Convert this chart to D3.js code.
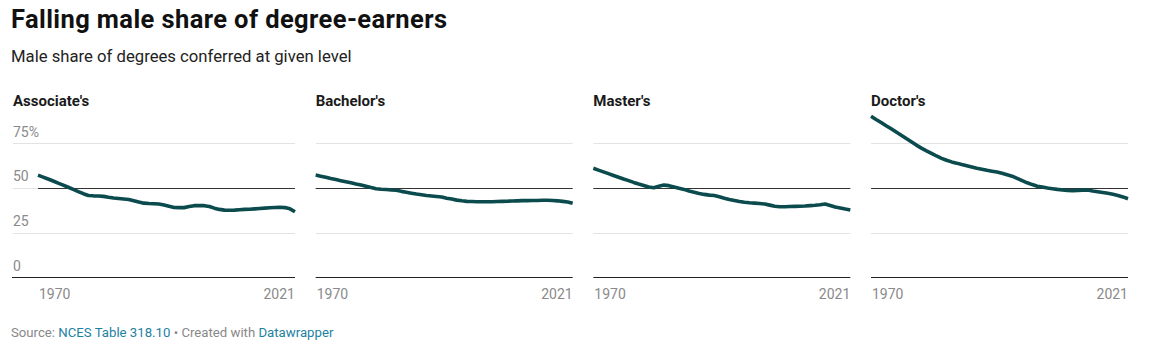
<!DOCTYPE html>
<html>
<head>
<meta charset="utf-8">
<script src="https://cdn.jsdelivr.net/npm/d3@7"></script>
<style>
  html, body { margin: 0; padding: 0; background: #fff; }
  svg { display: block; font-family: Roboto, "Noto Sans", sans-serif; }
</style>
</head>
<body>
<svg id="chart" width="1165" height="346"></svg>
<script>
// ---- data ----
const years = d3.range(1970, 2022);
const panelTitles = ["Associate's", "Bachelor's", "Master's", "Doctor's"];
const associates = [57.2,56.1,55.0,53.9,52.7,51.6,50.4,49.2,48.0,46.8,45.8,45.6,45.5,45.3,44.8,44.4,44.1,43.8,43.5,42.8,42.1,41.5,41.3,41.2,41.0,40.5,39.8,39.1,39.0,39.0,39.6,40.1,40.1,40.1,39.6,38.7,38.0,37.6,37.5,37.6,37.8,38.0,38.1,38.3,38.5,38.7,38.9,39.1,39.2,39.0,38.3,36.7];
const bachelors = [57.2,56.6,56.0,55.3,54.7,54.1,53.5,52.9,52.2,51.6,50.9,50.2,49.6,49.3,49.1,48.9,48.7,48.1,47.6,47.1,46.6,46.2,45.8,45.5,45.2,44.9,44.3,43.8,43.2,42.8,42.5,42.4,42.3,42.3,42.3,42.3,42.4,42.5,42.6,42.7,42.8,42.9,42.9,43.0,43.0,43.1,43.1,43.0,42.8,42.5,42.1,41.4];
const masters = [61.0,60.0,59.0,58.0,57.0,56.0,55.0,54.1,53.1,52.2,51.4,50.5,50.1,51.0,51.6,51.3,50.6,49.8,49.2,48.3,47.6,46.9,46.4,46.0,45.8,45.1,44.3,43.6,43.0,42.4,42.0,41.7,41.5,41.3,41.0,40.4,39.8,39.5,39.5,39.6,39.7,39.8,39.9,40.1,40.3,40.6,41.0,40.2,39.3,38.8,38.2,37.7];
const doctors = [90.1,88.3,86.6,84.8,83.1,81.3,79.5,77.7,75.9,74.0,72.3,70.8,69.4,67.9,66.6,65.5,64.6,63.9,63.1,62.4,61.7,61.0,60.5,59.9,59.4,58.9,58.2,57.4,56.6,55.4,54.1,52.9,51.9,51.0,50.5,50.0,49.6,49.2,48.9,48.6,48.5,48.6,48.8,48.9,48.3,47.9,47.5,47.0,46.5,45.8,45.0,44.0];
const seriesList = [associates, bachelors, masters, doctors];
const yTicks = [0, 25, 50, 75];
const xTickLabels = ["1970", "2021"];
const referenceValue = 50;

// ---- layout ----
const svg = d3.select("#chart");
const chartLeft = 13, chartRight = 1128;
const axisLabelW = 25, gap = 20.67;
const plotW = (chartRight - chartLeft - axisLabelW - 3 * gap) / 4;
const yTop = 143.3, yBottom = 277.3;
const lineColor = "#0b4b4e";

function fitWidth(sel, target) {
  const n = sel.text().length;
  const w = sel.node().getComputedTextLength();
  if (n > 1) sel.attr("letter-spacing", ((target - w) / (n - 1)).toFixed(2));
}

const title = svg.append("text").attr("x", 11).attr("y", 28)
  .attr("font-size", 25.5).attr("font-weight", 700).attr("fill", "#111")
  .text("Falling male share of degree-earners");
fitWidth(title, 436);
svg.append("text").attr("x", 11).attr("y", 62)
  .attr("font-size", 16.7).attr("fill", "#222")
  .text("Male share of degrees conferred at given level");

const y = d3.scaleLinear().domain([0, 75]).range([yBottom, yTop]);

seriesList.forEach((vals, i) => {
  const px0 = chartLeft + axisLabelW + i * (plotW + gap);
  const px1 = px0 + plotW;
  const outerLeft = i === 0 ? chartLeft : px0;
  const x = d3.scaleLinear().domain([1970, 2021]).range([px0, px1]);
  const g = svg.append("g");

  g.append("text").attr("x", outerLeft).attr("y", 106)
    .attr("font-size", 15).attr("font-weight", 700).attr("fill", "#1a1a1a")
    .text(panelTitles[i]);

  yTicks.filter(t => t !== 0).forEach(t => {
    g.append("line").attr("x1", outerLeft).attr("x2", px1)
      .attr("y1", Math.round(y(t)) + 0.5).attr("y2", Math.round(y(t)) + 0.5)
      .attr("stroke", "#e3e3e3").attr("stroke-width", 1);
  });
  if (i === 0) {
    yTicks.forEach(t => {
      g.append("text").attr("x", chartLeft).attr("y", y(t) - 6.5)
        .attr("font-size", 14).attr("fill", "#8a8a8a")
        .text(t === 75 ? "75%" : String(t));
    });
  }
  g.append("line").attr("x1", px0).attr("x2", px1)
    .attr("y1", Math.round(y(referenceValue)) + 0.5).attr("y2", Math.round(y(referenceValue)) + 0.5)
    .attr("stroke", "#333").attr("stroke-width", 1);
  g.append("line").attr("x1", i === 0 ? chartLeft - 1 : px0).attr("x2", px1)
    .attr("y1", Math.round(y(0)) + 0.5).attr("y2", Math.round(y(0)) + 0.5)
    .attr("stroke", "#222").attr("stroke-width", 1.2);

  g.append("text").attr("x", x(+xTickLabels[0]) + 1).attr("y", 298.5)
    .attr("font-size", 14).attr("fill", "#8a8a8a").attr("text-anchor", "start")
    .text(xTickLabels[0]);
  g.append("text").attr("x", x(+xTickLabels[1])).attr("y", 298.5)
    .attr("font-size", 14).attr("fill", "#8a8a8a").attr("text-anchor", "end")
    .text(xTickLabels[1]);

  const line = d3.line().x((d, j) => x(years[j])).y(d => y(d)).curve(d3.curveLinear);
  g.append("path").datum(vals).attr("d", line)
    .attr("fill", "none").attr("stroke", lineColor).attr("stroke-width", 3.6)
    .attr("stroke-linejoin", "round").attr("stroke-linecap", "butt");
});

const foot = svg.append("text").attr("x", 11).attr("y", 336.5).attr("font-size", 13.2);
foot.append("tspan").attr("fill", "#888").text("Source: ");
foot.append("tspan").attr("fill", "#1d81a2").text("NCES Table 318.10");
foot.append("tspan").attr("fill", "#888").text(" \u2022 Created with ");
foot.append("tspan").attr("fill", "#1d81a2").text("Datawrapper");
</script>
</body>
</html>
